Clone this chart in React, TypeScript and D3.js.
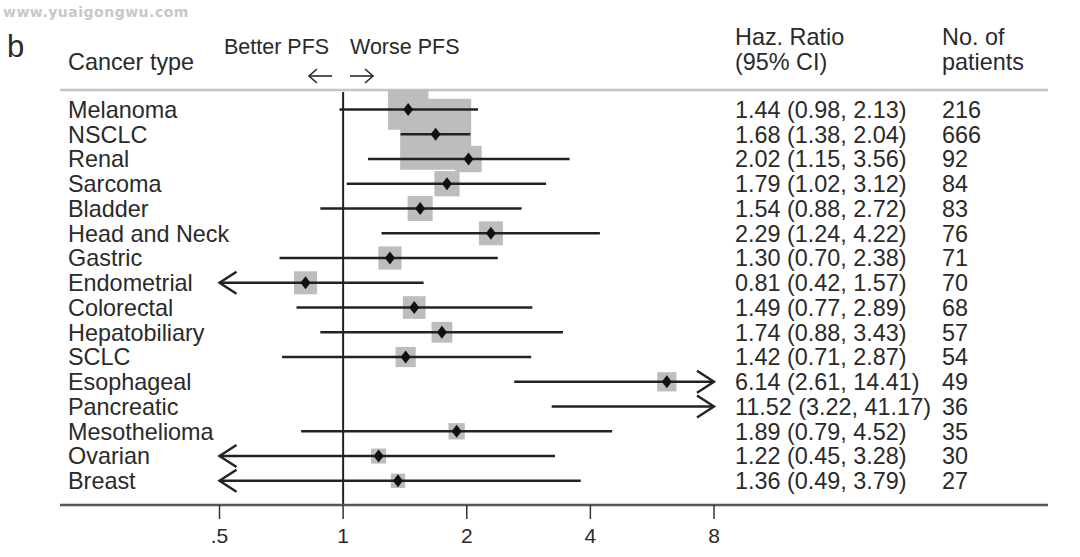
import React from "react";
import * as d3 from "d3";

const cancers = ["Melanoma","NSCLC","Renal","Sarcoma","Bladder","Head and Neck","Gastric","Endometrial","Colorectal","Hepatobiliary","SCLC","Esophageal","Pancreatic","Mesothelioma","Ovarian","Breast"];
const hr = [1.44,1.68,2.02,1.79,1.54,2.29,1.30,0.81,1.49,1.74,1.42,6.14,11.52,1.89,1.22,1.36];
const lo = [0.98,1.38,1.15,1.02,0.88,1.24,0.70,0.42,0.77,0.88,0.71,2.61,3.22,0.79,0.45,0.49];
const hi = [2.13,2.04,3.56,3.12,2.72,4.22,2.38,1.57,2.89,3.43,2.87,14.41,41.17,4.52,3.28,3.79];
const patients = [216,666,92,84,83,76,71,70,68,57,54,49,36,35,30,27];
const tickValues = [0.5,1,2,4,8];
const tickLabels = [".5","1","2","4","8"];

const W = 1080, H = 557;
const FONT = "'Liberation Sans', Arial, Helvetica, sans-serif";
const TXT = "#2a2a2a";
const FS = 23.4;

export default function App() {
  const x = d3.scaleLog().base(2).domain([0.5, 8]).range([219.5, 714]);
  const y = d3.scaleLinear().domain([0, cancers.length - 1]).range([109.5, 480.8]);
  const side = d3.scaleSqrt().domain([0, 666]).range([0, 71]);
  const [dMin, dMax] = x.domain();

  const fmt = d3.format(".2f");
  const ciText = (i: number) => `${fmt(hr[i])} (${fmt(lo[i])}, ${fmt(hi[i])})`;

  const axisY = 505;

  return (
    <svg width={W} height={H} style={{ position: "absolute", left: 0, top: 0, background: "#fff" }} fontFamily={FONT}>
      <text x={3} y={17} fontSize={14} fontWeight="bold" fill="#c8c8c8" fontFamily="'DejaVu Sans', sans-serif" letterSpacing={0.5}>www.yuaigongwu.com</text>
      <text x={7} y={57} fontSize={31} fill={TXT}>b</text>

      {/* headers */}
      <text x={68} y={70} fontSize={FS} fill={TXT}>Cancer type</text>
      <text x={224} y={54} fontSize={21.5} fill={TXT}>Better PFS</text>
      <text x={350} y={54} fontSize={21.5} fill={TXT}>Worse PFS</text>
      {/* header arrows */}
      <g stroke={TXT} strokeWidth={1.6} fill="none">
        <line x1={309} y1={76} x2={332} y2={76} />
        <polyline points="317,69 309,76 317,83" />
        <line x1={350} y1={76} x2={373} y2={76} />
        <polyline points="365,69 373,76 365,83" />
      </g>
      <text x={735} y={45} fontSize={FS} fill={TXT}>Haz. Ratio</text>
      <text x={735} y={70} fontSize={FS} fill={TXT}>(95% CI)</text>
      <text x={942} y={45} fontSize={FS} fill={TXT}>No. of</text>
      <text x={942} y={70} fontSize={FS} fill={TXT}>patients</text>

      {/* top rule */}
      <line x1={60} x2={1048} y1={90} y2={90} stroke="#c4c4c4" strokeWidth={2.5} />

      {/* boxes */}
      {cancers.map((c, i) => {
        if (hr[i] < dMin || hr[i] > dMax) return null;
        const s = side(patients[i]);
        return <rect key={"b" + c} x={x(hr[i]) - s / 2} y={y(i) - s / 2} width={s} height={s} fill="#bdbdbd" />;
      })}

      {/* null line */}
      <line x1={x(1)} x2={x(1)} y1={92} y2={axisY} stroke="#222" strokeWidth={2} />

      {/* CI lines */}
      {cancers.map((c, i) => {
        const l = Math.max(lo[i], dMin);
        const h = Math.min(hi[i], dMax);
        const x1 = x(l), x2 = x(h), yy = y(i);
        return (
          <g key={"l" + c} stroke="#222" strokeWidth={2.4} fill="none">
            <line x1={x1} x2={x2} y1={yy} y2={yy} />
            {lo[i] < dMin && <polyline points={`${x1 + 17},${yy - 11} ${x1},${yy} ${x1 + 17},${yy + 11}`} />}
            {hi[i] > dMax && <polyline points={`${x2 - 17},${yy - 11} ${x2},${yy} ${x2 - 17},${yy + 11}`} />}
          </g>
        );
      })}

      {/* diamonds */}
      {cancers.map((c, i) => {
        if (hr[i] < dMin || hr[i] > dMax) return null;
        const cx = x(hr[i]), cy = y(i);
        return <path key={"d" + c} d={`M${cx},${cy - 6.5}L${cx + 5},${cy}L${cx},${cy + 6.5}L${cx - 5},${cy}Z`} fill="#111" />;
      })}

      {/* row text */}
      {cancers.map((c, i) => (
        <g key={"t" + c} fontSize={FS} fill={TXT}>
          <text x={68} y={y(i)} dy="0.36em">{c}</text>
          <text x={735} y={y(i)} dy="0.36em">{ciText(i)}</text>
          <text x={942} y={y(i)} dy="0.36em">{patients[i]}</text>
        </g>
      ))}

      {/* bottom axis */}
      <line x1={60} x2={1048} y1={axisY} y2={axisY} stroke="#555" strokeWidth={2.5} />
      {tickValues.map((t, k) => (
        <g key={"tk" + t}>
          <line x1={x(t)} x2={x(t)} y1={axisY} y2={axisY + 14} stroke="#333" strokeWidth={1.5} />
          <text x={x(t)} y={543} fontSize={21} textAnchor="middle" fill={TXT}>{tickLabels[k]}</text>
        </g>
      ))}
    </svg>
  );
}
